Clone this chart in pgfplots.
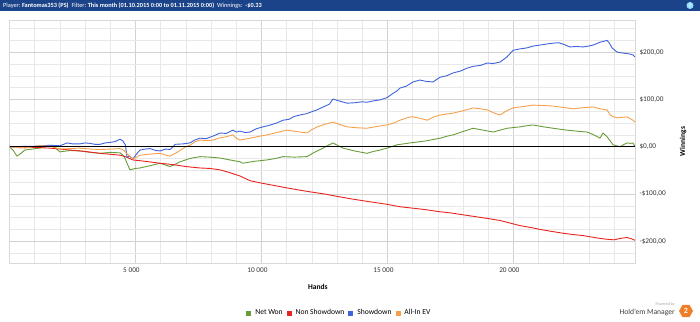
\documentclass[border=0pt]{standalone}
\usepackage{pgfplots}
\pgfplotsset{compat=1.18}
\usepackage{fontspec}
\setmainfont{Carlito}
\usetikzlibrary{shapes.geometric}
\definecolor{hdr}{HTML}{1B4389}
\definecolor{cgreen}{HTML}{6A9B3A}
\definecolor{cred}{HTML}{E8231E}
\definecolor{cblue}{HTML}{3E63DC}
\definecolor{corange}{HTML}{F7A04B}
\definecolor{hmorange}{HTML}{F07E26}
\begin{document}
\begin{tikzpicture}
\useasboundingbox (0,0) rectangle (700pt,321pt);
\fill[hdr] (0,310pt) rectangle (700pt,321pt);
\node[anchor=west, white, font=\fontsize{6.3}{7}\selectfont, inner sep=0pt] at (3pt,315.5pt)
 {Player:\ \textbf{Fantomas353 (PS)}\ \ Filter:\ \textbf{This month (01.10.2015 0:00 to 01.11.2015 0:00)}\ \ Winnings:\ \ \textbf{-\$0.33}};
\fill[cyan!40!white] (690pt,315.5pt) circle (3.5pt);
\node[white, font=\fontsize{5}{5}\selectfont\bfseries, inner sep=0pt] at (690pt,315.5pt) {?};
\begin{axis}[
  at={(9.5pt,58pt)}, anchor=south west,
  scale only axis, width=625.5pt, height=243pt,
  xmin=0, xmax=24830, ymin=-246, ymax=268,
  axis line style={draw=gray!30},
  tick style={draw=none},
  scaled x ticks=false, scaled y ticks=false,
  xtick={5000,10000,15000,20000},
  xticklabels={{5 000},{10 000},{15 000},{20 000}},
  minor xtick={1000,2000,...,24000},
  ytick={-200,-100,0,100,200},
  yticklabels={{-\$200,00},{-\$100,00},{\$0,00},{\$100,00},{\$200,00}},
  minor ytick={-225,-200,...,250},
  yticklabel pos=right,
  grid=both,
  major grid style={draw=gray!35, line width=0.5pt},
  minor grid style={draw=gray!18, line width=0.5pt},
  ticklabel style={font=\fontsize{7.3}{8}\selectfont, text=black!80},
  xticklabel style={yshift=-1pt, xshift=-4pt},
  yticklabel style={xshift=1pt},
  xlabel={\textbf{Hands}},
  xlabel style={at={(0.493,-0.099)}, anchor=center, font=\fontsize{7.5}{8}\selectfont},
  ylabel={\textbf{Winnings}},
  ylabel style={at={(1.077,0.5)}, anchor=center, font=\fontsize{7.5}{8}\selectfont},
  legend columns=4,
  legend style={at={(0.527,-0.206)}, anchor=center, draw=none, fill=none,
    font=\fontsize{7.6}{8}\selectfont, column sep=2.5pt, inner sep=0pt,
    nodes={inner sep=1.5pt}},
  legend image code/.code={\fill[#1] (1pt,-2pt) rectangle (5pt,2pt);},
  every axis plot/.append style={line width=0.9pt, line join=round},
]
\addplot[cgreen] coordinates {
(0,0) (150,-8) (300,-20) (450,-14) (615,-7) (900,-5) (1210,-3) (1400,0) (1610,3) (1800,-2)
(2005,-11) (2400,-8) (2800,-9) (3200,-12) (3590,-14) (4000,-12) (4390,-13) (4550,-20) (4665,-35) (4785,-49)
(5000,-46) (5180,-45) (5600,-40) (5975,-35) (6150,-38) (6370,-42) (6550,-38) (6770,-32) (7150,-25) (7560,-21)
(7950,-22) (8360,-24) (8750,-28) (9150,-32) (9270,-35) (9700,-31) (10220,-28) (10550,-25) (10860,-21) (11300,-22)
(11810,-21) (12100,-12) (12450,-3) (12650,3) (12840,8) (13050,2) (13240,-3) (13700,-9) (14190,-14) (14450,-10)
(14710,-7) (15050,-2) (15380,4) (15650,6) (15900,8) (16500,12) (17090,18) (17350,22) (17610,25) (18000,32)
(18400,39) (18800,35) (19200,31) (19470,35) (19750,39) (20270,42) (20500,44) (20780,46) (21200,42) (21580,39)
(21850,37) (22130,35) (22500,33) (22930,31) (23200,25) (23440,18) (23560,29) (23720,21) (23850,12) (23960,4)
(24100,2) (24240,0) (24400,5) (24510,8) (24650,7) (24750,8) (24830,0)
};
\addlegendentry{Net Won}
\addplot[cred] coordinates {
(0,0) (800,-1) (1610,-3) (2400,-7) (3000,-10) (3590,-14) (4000,-16) (4390,-18) (4650,-22) (4900,-28)
(5400,-31) (5975,-35) (6500,-38) (7000,-42) (7560,-45) (7950,-46) (8360,-49) (8750,-55) (9150,-62) (9550,-72)
(10000,-77) (10500,-82) (11000,-87) (11530,-92) (12000,-96) (12500,-100) (13000,-105) (13520,-110) (14000,-114) (14500,-118)
(15000,-122) (15500,-127) (16000,-130) (16500,-133) (17000,-137) (17500,-140) (18000,-144) (18500,-148) (19000,-152) (19470,-156)
(19900,-162) (20270,-167) (20700,-171) (21060,-175) (21500,-179) (21970,-183) (22400,-186) (22770,-188) (23100,-191) (23440,-194)
(23750,-196) (24000,-197) (24250,-194) (24510,-192) (24700,-195) (24830,-198)
};
\addlegendentry{Non Showdown}
\addplot[cblue] coordinates {
(0,0) (300,-1) (615,1) (1010,1) (1300,2) (1610,3) (2005,2) (2150,5) (2280,8) (2500,6)
(2800,6) (3000,8) (3195,7) (3400,5) (3590,5) (3800,8) (3990,9) (4200,11) (4390,16) (4500,12)
(4600,4) (4665,-22) (4780,-20) (4900,-26) (5050,-15) (5180,-7) (5400,-5) (5580,-4) (5800,-8) (5975,-9)
(6200,-5) (6370,-6) (6500,0) (6570,5) (6900,6) (7165,8) (7350,14) (7560,18) (7800,17) (7960,20)
(8150,24) (8360,29) (8600,28) (8870,35) (9000,31) (9150,33) (9350,30) (9550,31) (9800,38) (10065,42)
(10300,45) (10600,50) (10860,56) (11100,58) (11300,64) (11530,67) (11800,70) (12000,74) (12210,78) (12450,84)
(12700,90) (12840,101) (13000,98) (13200,95) (13400,92) (13700,93) (14000,95) (14190,94) (14450,97) (14710,99)
(14990,104) (15230,113) (15380,118) (15500,124) (15750,128) (16020,137) (16300,141) (16550,138) (16810,137) (17090,147)
(17350,150) (17610,156) (17900,160) (18160,166) (18400,170) (18700,172) (18960,177) (19200,176) (19470,179) (19600,184)
(19750,190) (19990,204) (20270,207) (20540,209) (20800,213) (21060,215) (21300,217) (21580,219) (21800,220) (21970,217)
(22250,211) (22500,212) (22770,211) (23000,213) (23170,215) (23440,221) (23600,223) (23720,225) (23800,220) (23920,209)
(24120,200) (24360,198) (24500,197) (24630,196) (24750,194) (24830,190)
};
\addlegendentry{Showdown}
\addplot[corange] coordinates {
(0,0) (300,-2) (615,-3) (900,0) (1210,2) (1600,1) (2005,-5) (2400,-4) (2800,-3) (3200,-5)
(3590,-6) (4000,-5) (4390,-4) (4550,-8) (4665,-15) (4900,-26) (5050,-22) (5180,-18) (5500,-16) (5975,-14)
(6150,-17) (6370,-20) (6550,-15) (6770,-8) (7000,0) (7165,3) (7350,10) (7560,14) (7800,13) (8080,14)
(8300,18) (8600,21) (8870,25) (9000,18) (9150,14) (9350,16) (9550,18) (9900,22) (10220,25) (10600,30)
(11015,35) (11400,32) (11810,29) (12000,36) (12210,42) (12500,47) (12840,52) (13100,47) (13400,42) (13800,40)
(14190,39) (14600,43) (14990,46) (15250,50) (15500,56) (15900,63) (16020,63) (16300,60) (16580,56) (16800,62)
(17090,67) (17350,69) (17610,71) (18000,76) (18400,82) (18700,80) (18960,78) (19200,72) (19470,67) (19700,75)
(19990,82) (20400,85) (20780,88) (21200,87) (21580,86) (21850,84) (22130,82) (22400,80) (22650,82) (22900,83)
(23170,84) (23450,80) (23720,78) (23840,67) (24000,63) (24120,61) (24300,62) (24510,63) (24650,59) (24750,56)
(24830,52)
};
\addlegendentry{All-In EV}
\addplot[black, line width=1.3pt, forget plot] coordinates {(0,0) (24830,0)};
\end{axis}
\node[anchor=east, gray!70, font=\fontsize{4}{4}\selectfont, inner sep=0pt] at (675pt,17pt) {Powered by};
\node[anchor=east, black!75, font=\fontsize{7.6}{8}\selectfont, inner sep=0pt] at (675pt,8.5pt) {Hold'em Manager};
\node[regular polygon, regular polygon sides=6, fill=hmorange, minimum size=14pt, inner sep=0pt, text=white,
  font=\fontsize{8}{8}\selectfont\bfseries] at (686pt,10pt) {2};
\end{tikzpicture}
\end{document}
